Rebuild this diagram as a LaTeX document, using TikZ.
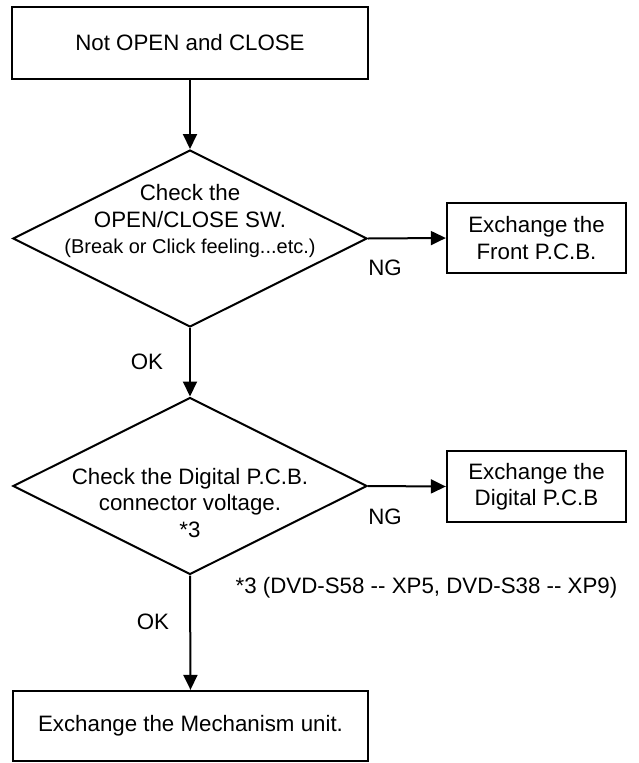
\documentclass[tikz,border=0pt]{standalone}
\usepackage{fontspec}
\setmainfont{Liberation Sans}
\usetikzlibrary{shapes.geometric,arrows.meta}

\begin{document}
\begin{tikzpicture}[x=1pt,y=-1pt,line width=2.3pt,
    every node/.style={font=\fontsize{22.3}{26.5}\selectfont},
    box/.style={draw,rectangle,inner sep=0pt,align=center},
    decision/.style={draw,diamond,inner sep=0pt,line width=2pt,
      minimum width=354pt,minimum height=177pt},
    flow/.style={-{Triangle[length=15pt,width=14pt]},line width=2pt},
    txt/.style={align=center,inner sep=0pt}]
  \useasboundingbox (0,0) rectangle (639,763);
  % main column
  \node[box,minimum width=356pt,minimum height=72pt] (start) at (190,43)
    {Not OPEN and CLOSE};
  \node[decision] (chk1) at (190,238.5) {};
  \node[txt] (chk1txt) at (190,221) {Check the\\OPEN/CLOSE SW.\\
    {\fontsize{20}{24}\selectfont(Break or Click feeling...etc.)}};
  \node[decision] (chk2) at (190,486) {};
  \node[txt] (chk2txt) at (190,503) {Check the Digital P.C.B.\\
    connector voltage.\\*3};
  \node[box,minimum width=355pt,minimum height=70pt] (mech) at (190.5,726)
    {Exchange the Mechanism unit.};
  % NG side
  \node[box,minimum width=179pt,minimum height=70pt] (front) at (536.5,238)
    {Exchange the\\Front P.C.B.};
  \node[box,minimum width=179pt,minimum height=71pt] (digital) at (536.5,486.5)
    {Exchange the\\Digital P.C.B};
  % labels
  \node (ng1) at (385,268) {NG};
  \node (ng2) at (385,517) {NG};
  \node (ok1) at (147,362) {OK};
  \node (ok2) at (153,622) {OK};
  \node (note) at (426.5,588) {*3 (DVD-S58 {-}{-} XP5, DVD-S38 {-}{-} XP9)};
  % connectors
  \draw[flow] (start.south) -- (chk1.north);
  \draw[flow] (chk1.east) -- (front.west);
  \draw[flow] (chk1.south) -- (chk2.north);
  \draw[flow] (chk2.east) -- (digital.west);
  \draw[flow] (chk2.south) -- (mech.north);
\end{tikzpicture}
\end{document}
